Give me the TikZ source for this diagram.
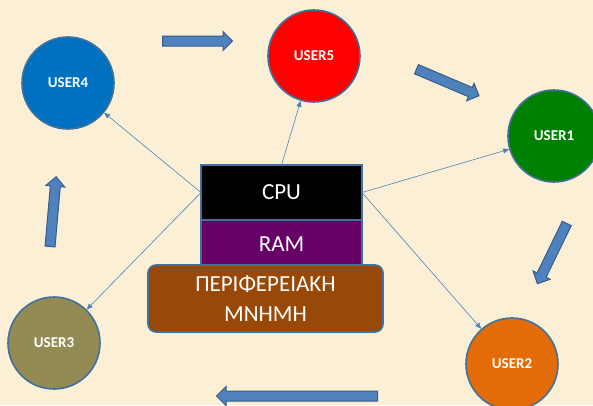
\documentclass[tikz,border=0pt]{standalone}
\usepackage{fontspec}
\setmainfont{Carlito}
\usetikzlibrary{arrows.meta,positioning,shapes.arrows}
\definecolor{paper}{HTML}{FBF0D6}
\definecolor{rim}{HTML}{41719C}
\definecolor{flow}{HTML}{4F81BD}
\definecolor{flowedge}{HTML}{385D8A}
\definecolor{rambg}{HTML}{660066}
\definecolor{membg}{HTML}{984807}
\definecolor{userA}{HTML}{008000}
\definecolor{userB}{HTML}{E36C09}
\definecolor{userC}{HTML}{948A54}
\definecolor{userD}{HTML}{0070C0}
\definecolor{userE}{HTML}{FF0000}

\begin{document}
\begin{tikzpicture}[x=1pt, y=-1pt, >={Triangle[length=6pt,width=5pt]},
  user/.style={circle, draw=rim, line width=1.6pt, minimum size=92pt, text=white, font=\fontsize{15}{17}\selectfont\bfseries},
  unit/.style={rectangle, draw=rim, line width=1.6pt, minimum width=161pt, outer sep=0pt, text=white, font=\fontsize{23}{30}\selectfont},
  link/.style={->, flow, line width=0.6pt},
  flowarrow/.style={single arrow, draw=flowedge, fill=flow, line width=1pt, minimum width=18pt, single arrow head extend=4.5pt, inner sep=4.5pt, anchor=tail}]
  \fill[paper] (0,0) rectangle (593,405);
  \useasboundingbox (0,0) rectangle (593,405);

  % computer in the middle
  \node[unit, fill=black, minimum height=55pt] (cpu) at (281.5,192.5) {CPU};
  \node[unit, fill=rambg, minimum height=48pt, below=0pt of cpu] (ram) {RAM};
  \node[unit, fill=membg, rounded corners=8pt, minimum width=235pt, minimum height=67pt, align=center] (mem) at (265.5,298.5) {ΠΕΡΙΦΕΡΕΙΑΚΗ\\ΜΝΗΜΗ};

  % users
  \node[user, fill=userA] (user1) at (554,136) {USER1};
  \node[user, fill=userB] (user2) at (512,364) {USER2};
  \node[user, fill=userC] (user3) at (54,343) {USER3};
  \node[user, fill=userD] (user4) at (68,83) {USER4};
  \node[user, fill=userE] (user5) at (314,56) {USER5};

  \draw[link] (cpu.west) -- (user4);
  \draw[link] (cpu.north) -- (user5);
  \draw[link] (cpu.east) -- (user1);
  \draw[link] (cpu.east) -- (user2);
  \draw[link] (cpu.west) -- (user3);

  % turn order
  \node[flowarrow, minimum height=70pt] (turn45) at (162,41) {};
  \node[flowarrow, minimum height=68pt, rotate=-23] (turn51) at (416,69) {};
  \node[flowarrow, minimum height=67pt, rotate=-116] (turn12) at (567,223) {};
  \node[flowarrow, minimum height=161pt, rotate=180] (turn23) at (378,396) {};
  \node[flowarrow, minimum height=70pt, rotate=85] (turn34) at (50,247) {};
\end{tikzpicture}
\end{document}
